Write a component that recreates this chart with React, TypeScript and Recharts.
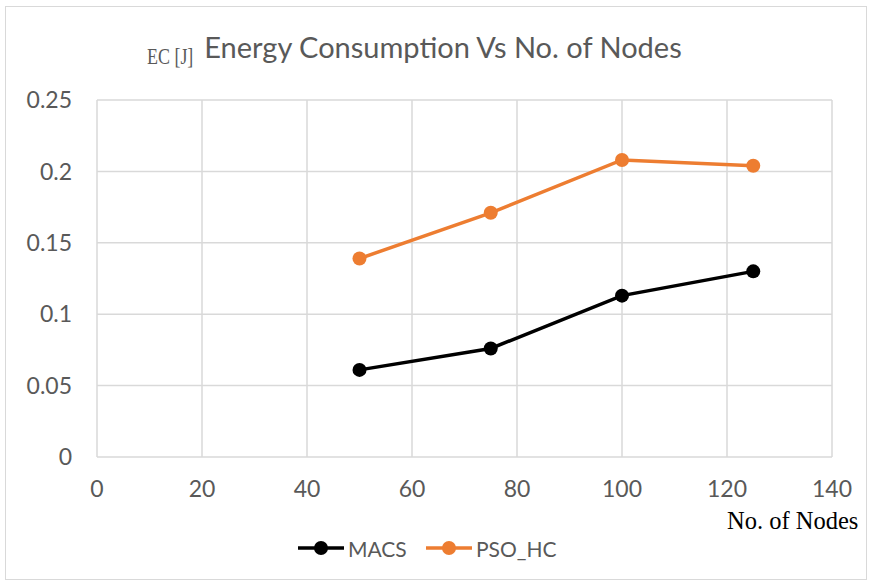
import React from 'react';
import { LineChart, Line, XAxis, YAxis, CartesianGrid } from 'recharts';

// values
const nodes = [50, 75, 100, 125];
const macs = [0.061, 0.076, 0.113, 0.13];
const psoHc = [0.139, 0.171, 0.208, 0.204];
const xTicks = [0, 20, 40, 60, 80, 100, 120, 140];
const yTicks = [0, 0.05, 0.1, 0.15, 0.2, 0.25];

const data = nodes.map((n, i) => ({ nodes: n, MACS: macs[i], PSO_HC: psoHc[i] }));

const sans = 'Lato, "Open Sans", sans-serif';
const serif = '"Liberation Serif", "DejaVu Serif", serif';
const grey = '#595959';

function LegendItem({ color, label, left }: { color: string; label: string; left: number }) {
  return (
    <div style={{ position: 'absolute', left, top: 534, display: 'flex', alignItems: 'center' }}>
      <svg width={48} height={28}>
        <line x1={0} y1={14} x2={46} y2={14} stroke={color} strokeWidth={3.5} />
        <circle cx={23} cy={14} r={7} fill={color} />
      </svg>
      <span style={{ fontFamily: sans, fontSize: 21, color: grey, marginLeft: 2 }}>{label}</span>
    </div>
  );
}

export default function App() {
  return (
    <div style={{ position: 'absolute', left: 0, top: 0, width: 869, height: 584, background: '#fff' }}>
      <div
        style={{
          position: 'absolute',
          left: 5,
          top: 6,
          width: 860,
          height: 572,
          border: '1px solid #d9d9d9',
        }}
      />
      <LineChart
        width={869}
        height={584}
        data={data}
        margin={{ top: 100, right: 37, bottom: 97, left: 0 }}
      >
        <CartesianGrid stroke="#d9d9d9" strokeWidth={1.5} />
        <XAxis
          dataKey="nodes"
          type="number"
          domain={[0, 140]}
          ticks={xTicks}
          axisLine={false}
          tickLine={false}
          tickSize={0}
          tickMargin={24}
          height={30}
          tick={{ fill: grey, fontSize: 23, fontFamily: sans }}
        />
        <YAxis
          type="number"
          domain={[0, 0.25]}
          ticks={yTicks}
          axisLine={false}
          tickLine={false}
          tickSize={0}
          tickMargin={25}
          width={97}
          tick={{ fill: grey, fontSize: 23, fontFamily: sans }}
        />
        <Line
          dataKey="MACS"
          stroke="#000000"
          strokeWidth={3.5}
          dot={{ r: 7, fill: '#000000', stroke: '#000000', strokeWidth: 0 }}
          isAnimationActive={false}
        />
        <Line
          dataKey="PSO_HC"
          stroke="#ed7d31"
          strokeWidth={3.5}
          dot={{ r: 7, fill: '#ed7d31', stroke: '#ed7d31', strokeWidth: 0 }}
          isAnimationActive={false}
        />
      </LineChart>
      <div
        style={{
          position: 'absolute',
          left: 0,
          width: 886,
          top: 29,
          textAlign: 'center',
          fontFamily: sans,
          fontSize: 29,
          color: grey,
        }}
      >
        Energy Consumption Vs No. of Nodes
      </div>
      <div
        style={{
          position: 'absolute',
          left: 147,
          top: 44,
          fontFamily: serif,
          fontSize: 23,
          color: grey,
          transform: 'scaleX(0.78)',
          transformOrigin: 'left top',
        }}
      >
        EC [J]
      </div>
      <div style={{ position: 'absolute', left: 727, top: 507, fontFamily: serif, fontSize: 24.5, color: '#000' }}>
        No. of Nodes
      </div>
      <LegendItem color="#000000" label="MACS" left={298} />
      <LegendItem color="#ed7d31" label="PSO_HC" left={426} />
    </div>
  );
}
